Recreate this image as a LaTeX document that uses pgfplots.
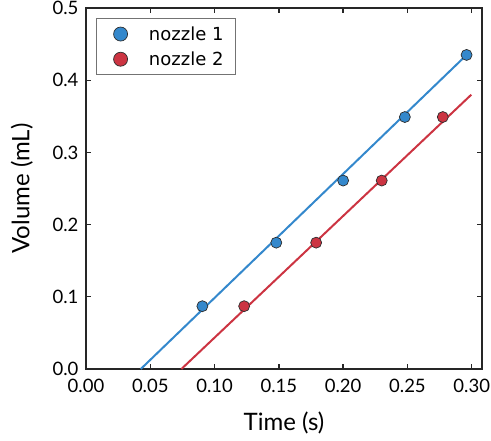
\documentclass[border=0pt]{standalone}
\usepackage{fontspec}
\setmainfont{Lato}
\newfontfamily\legfont{DejaVu Sans}
\usepackage{pgfplots}
\pgfplotsset{compat=1.18}
\usetikzlibrary{calc}

\definecolor{nozA}{RGB}{52,136,204}
\definecolor{nozB}{RGB}{204,52,66}
\definecolor{edge}{RGB}{45,45,45}

\begin{document}
\begin{tikzpicture}
\begin{axis}[
    scale only axis,
    width=396pt, height=361pt,
    xmin=0, xmax=0.308, ymin=0, ymax=0.5,
    xtick={0,0.05,...,0.30}, ytick={0,0.1,...,0.5},
    xticklabel style={/pgf/number format/.cd,fixed,fixed zerofill,precision=2},
    yticklabel style={/pgf/number format/.cd,fixed,fixed zerofill,precision=1},
    /pgf/number format/assume math mode=true,
    xticklabel shift=7pt, yticklabel shift=4pt,
    tick label style={font=\fontsize{18.5}{22}\selectfont},
    label style={font=\fontsize{24}{27}\selectfont},
    xlabel={Time (s)}, ylabel={Volume (mL)},
    xlabel style={at={(axis description cs:0.5,-0.15)}, anchor=center},
    ylabel style={at={(axis description cs:-0.162,0.5)}, anchor=center},
    tick align=inside, major tick length=5pt,
    axis line style={line width=1.3pt, black!85},
    every tick/.style={line width=1.3pt, black!85},
    legend style={at={(0.025,0.972)}, anchor=north west, draw=black!55,
        line width=0.7pt, font=\legfont\fontsize{18}{21}\selectfont,
        row sep=6pt, inner xsep=10pt, inner ysep=6pt, cells={anchor=west}},
    legend cell align=left,
]
\coordinate (sw) at (rel axis cs:0,0);
\coordinate (ne) at (rel axis cs:1,1);
\addplot[nozA, line width=2pt, forget plot] coordinates {(0.0426,0) (0.296,0.435)};
\addplot[nozB, line width=2pt, forget plot] coordinates {(0.0742,0) (0.2997,0.380)};
\addplot[only marks, mark=*, mark size=5.5pt, mark options={fill=nozA, draw=edge, line width=0.7pt},
    legend image code/.code={\path (0pt,0pt) (26pt,0pt);
        \draw[fill=nozA, draw=edge, line width=0.7pt] (14pt,0pt) circle (7pt);}]
  coordinates {(0.0905,0.087) (0.148,0.175) (0.200,0.261) (0.248,0.349) (0.296,0.435)};
\addlegendentry{\hspace{14pt}nozzle 1}
\addplot[only marks, mark=*, mark size=5.5pt, mark options={fill=nozB, draw=edge, line width=0.7pt},
    legend image code/.code={\path (0pt,0pt) (26pt,0pt);
        \draw[fill=nozB, draw=edge, line width=0.7pt] (14pt,0pt) circle (7pt);}]
  coordinates {(0.123,0.087) (0.179,0.175) (0.230,0.261) (0.2775,0.349)};
\addlegendentry{\hspace{14pt}nozzle 2}
\end{axis}
\pgfresetboundingbox
\path ($(sw)+(-86pt,-71pt)$) rectangle ($(ne)+(9pt,8pt)$);
\end{tikzpicture}
\end{document}
